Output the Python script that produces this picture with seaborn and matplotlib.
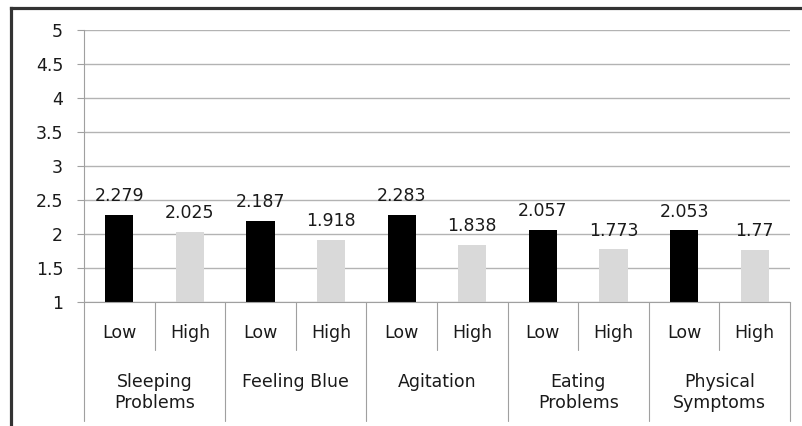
import matplotlib
matplotlib.use("Agg")
import matplotlib.pyplot as plt
import matplotlib.transforms as mtransforms
from matplotlib.lines import Line2D
import seaborn as sns
import pandas as pd

groups = ["Sleeping\nProblems", "Feeling Blue", "Agitation", "Eating\nProblems", "Physical\nSymptoms"]
levels = ["Low", "High"]
low_values = [2.279, 2.187, 2.283, 2.057, 2.053]
high_values = [2.025, 1.918, 1.838, 1.773, 1.77]
low_labels = ["2.279", "2.187", "2.283", "2.057", "2.053"]
high_labels = ["2.025", "1.918", "1.838", "1.773", "1.77"]
yticks = [1, 1.5, 2, 2.5, 3, 3.5, 4, 4.5, 5]
ytick_labels = ["1", "1.5", "2", "2.5", "3", "3.5", "4", "4.5", "5"]

rows = []
for g, lo, hi, llo, lhi in zip(groups, low_values, high_values, low_labels, high_labels):
    rows.append({"slot": g + "|Low", "group": g, "level": "Low", "value": lo, "label": llo})
    rows.append({"slot": g + "|High", "group": g, "level": "High", "value": hi, "label": lhi})
df = pd.DataFrame(rows)

sns.set_theme(style="white")
plt.rcParams["font.family"] = ["DejaVu Sans"]
TXT = "#1a1a1a"
FS = 12.5

W, H = 802, 426
fig = plt.figure(figsize=(W / 100, H / 100), dpi=100)
left, right, top, bottom = 84, 790, 30, 302
ax = fig.add_axes([left / W, 1 - bottom / H, (right - left) / W, (bottom - top) / H])

sns.barplot(data=df, x="slot", y="value", hue="level", order=list(df["slot"]),
            hue_order=levels, palette={"Low": "#000000", "High": "#d9d9d9"},
            dodge=False, width=0.4, ax=ax, legend=False, linewidth=0, saturation=1)

ax.set_ylim(1, 5)
ax.set_xlim(-0.5, len(df) - 0.5)
ax.set_yticks(yticks)
ax.set_yticklabels(ytick_labels, fontsize=FS, color=TXT)
ax.set_xticks([])
ax.set_xlabel("")
ax.set_ylabel("")
ax.yaxis.grid(True, color="#b3b3b3", linewidth=1.0)
ax.set_axisbelow(True)
ax.tick_params(axis="y", length=5, width=0.8, color="#a0a0a0", pad=10, left=True)
for s in ["top", "right"]:
    ax.spines[s].set_visible(False)
for s in ["left", "bottom"]:
    ax.spines[s].set_color("#a0a0a0")
    ax.spines[s].set_linewidth(0.8)

# value labels
for i, row in df.iterrows():
    ax.annotate(row["label"], (i, row["value"]), xytext=(0, 10), textcoords="offset points",
                ha="center", va="baseline", fontsize=FS, color=TXT)

# multi-level category axis
trans = mtransforms.blended_transform_factory(ax.transData, ax.transAxes)
ph = bottom - top
def frac(py):
    return -(py - bottom) / ph

for i, row in df.iterrows():
    ax.text(i, frac(337.5), row["level"], transform=trans, ha="center", va="baseline",
            fontsize=FS, color=TXT, clip_on=False)
    # boundary lines
for k in range(len(df) + 1):
    x = k - 0.5
    yend = frac(421) if k % 2 == 0 else frac(350)
    ax.add_line(Line2D([x, x], [0, yend], transform=trans, color="#a0a0a0",
                       linewidth=0.8, clip_on=False))

for gi, g in enumerate(groups):
    cx = gi * 2 + 0.5
    for li, line in enumerate(g.split("\n")):
        ax.text(cx, frac(387 + 21 * li), line, transform=trans, ha="center", va="baseline",
                fontsize=FS, color=TXT, clip_on=False)

# outer frame (left and top)
fig.add_artist(Line2D([10.5 / W, 10.5 / W], [0, 1 - 7.5 / H], transform=fig.transFigure,
                      color="#333333", linewidth=2.3, solid_capstyle="projecting"))
fig.add_artist(Line2D([10.5 / W, 1], [1 - 7.5 / H, 1 - 7.5 / H], transform=fig.transFigure,
                      color="#333333", linewidth=2.3, solid_capstyle="projecting"))

fig.savefig("out.png", dpi=100, facecolor="white")
